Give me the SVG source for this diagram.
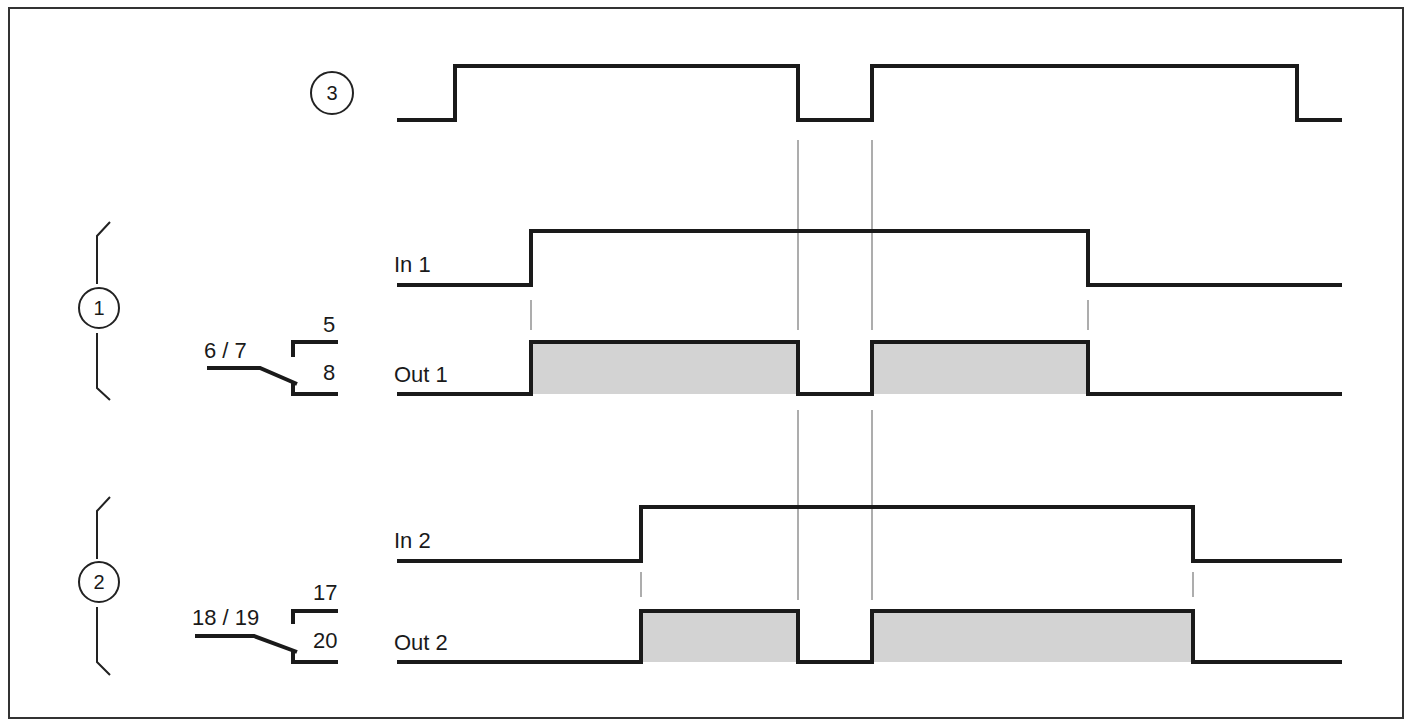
<svg xmlns="http://www.w3.org/2000/svg" width="1412" height="726" viewBox="0 0 1412 726">
<style>
.w{fill:none;stroke:#1a1a1a;stroke-width:4;stroke-linejoin:miter}
.f{fill:#d3d3d3;stroke:none}
.g{stroke:#777;stroke-width:1.2;fill:none}
.b{fill:none;stroke:#222;stroke-width:2}
.t{font-family:"Liberation Sans",Arial,sans-serif;font-size:22px;fill:#1a1a1a}
.n{font-family:"Liberation Sans",Arial,sans-serif;font-size:20px;fill:#1a1a1a}
</style>
<rect x="0" y="0" width="1412" height="726" fill="#fff"/>
<rect x="9" y="8" width="1394" height="710" fill="none" stroke="#333" stroke-width="2"/>
<g id="connectors">
<path class="g" d="M798 140V330M798 410V600M872 140V330M872 410V600M531 300V330M1088 300V330M641 572V597M1193 572V597"/>
</g>
<g id="signal3">
<circle class="b" cx="332" cy="93" r="21"/><text class="n" x="332" y="100" text-anchor="middle">3</text>
<path class="w" d="M397 120H455V66H798V120H872V66H1297V120H1342"/>
</g>
<g id="group1">
<path class="b" d="M110 222L97 236V284M97 333V388L110 400"/>
<circle class="b" cx="99" cy="308" r="20"/><text class="n" x="99" y="315" text-anchor="middle">1</text>
<text class="t" x="204" y="358">6 / 7</text>
<text class="t" x="323" y="332">5</text>
<text class="t" x="323" y="380">8</text>
<path class="w" d="M207 368H260L297 384"/>
<path class="w" d="M293 357V342H338M293 383V394H338"/>
</g>
<g id="in1">
<text class="t" x="394" y="272">In 1</text>
<path class="w" d="M397 285H531V231H1088V285H1342"/>
</g>
<g id="out1">
<text class="t" x="394" y="382">Out 1</text>
<rect class="f" x="531" y="342" width="267" height="52"/><rect class="f" x="872" y="342" width="216" height="52"/>
<path class="w" d="M397 394H531V342H798V394H872V342H1088V394H1342"/>
</g>
<g id="group2">
<path class="b" d="M110 497L97 511V559M97 607V662L110 675"/>
<circle class="b" cx="99" cy="582" r="20"/><text class="n" x="99" y="589" text-anchor="middle">2</text>
<text class="t" x="192" y="625">18 / 19</text>
<text class="t" x="313" y="600">17</text>
<text class="t" x="313" y="648">20</text>
<path class="w" d="M195 636H254L297 652"/>
<path class="w" d="M293 624V611H338M293 651V662H338"/>
</g>
<g id="in2">
<text class="t" x="394" y="548">In 2</text>
<path class="w" d="M397 561H641V507H1193V561H1342"/>
</g>
<g id="out2">
<text class="t" x="394" y="650">Out 2</text>
<rect class="f" x="641" y="611" width="157" height="51"/><rect class="f" x="872" y="611" width="321" height="51"/>
<path class="w" d="M397 662H641V611H798V662H872V611H1193V662H1342"/>
</g>
</svg>
